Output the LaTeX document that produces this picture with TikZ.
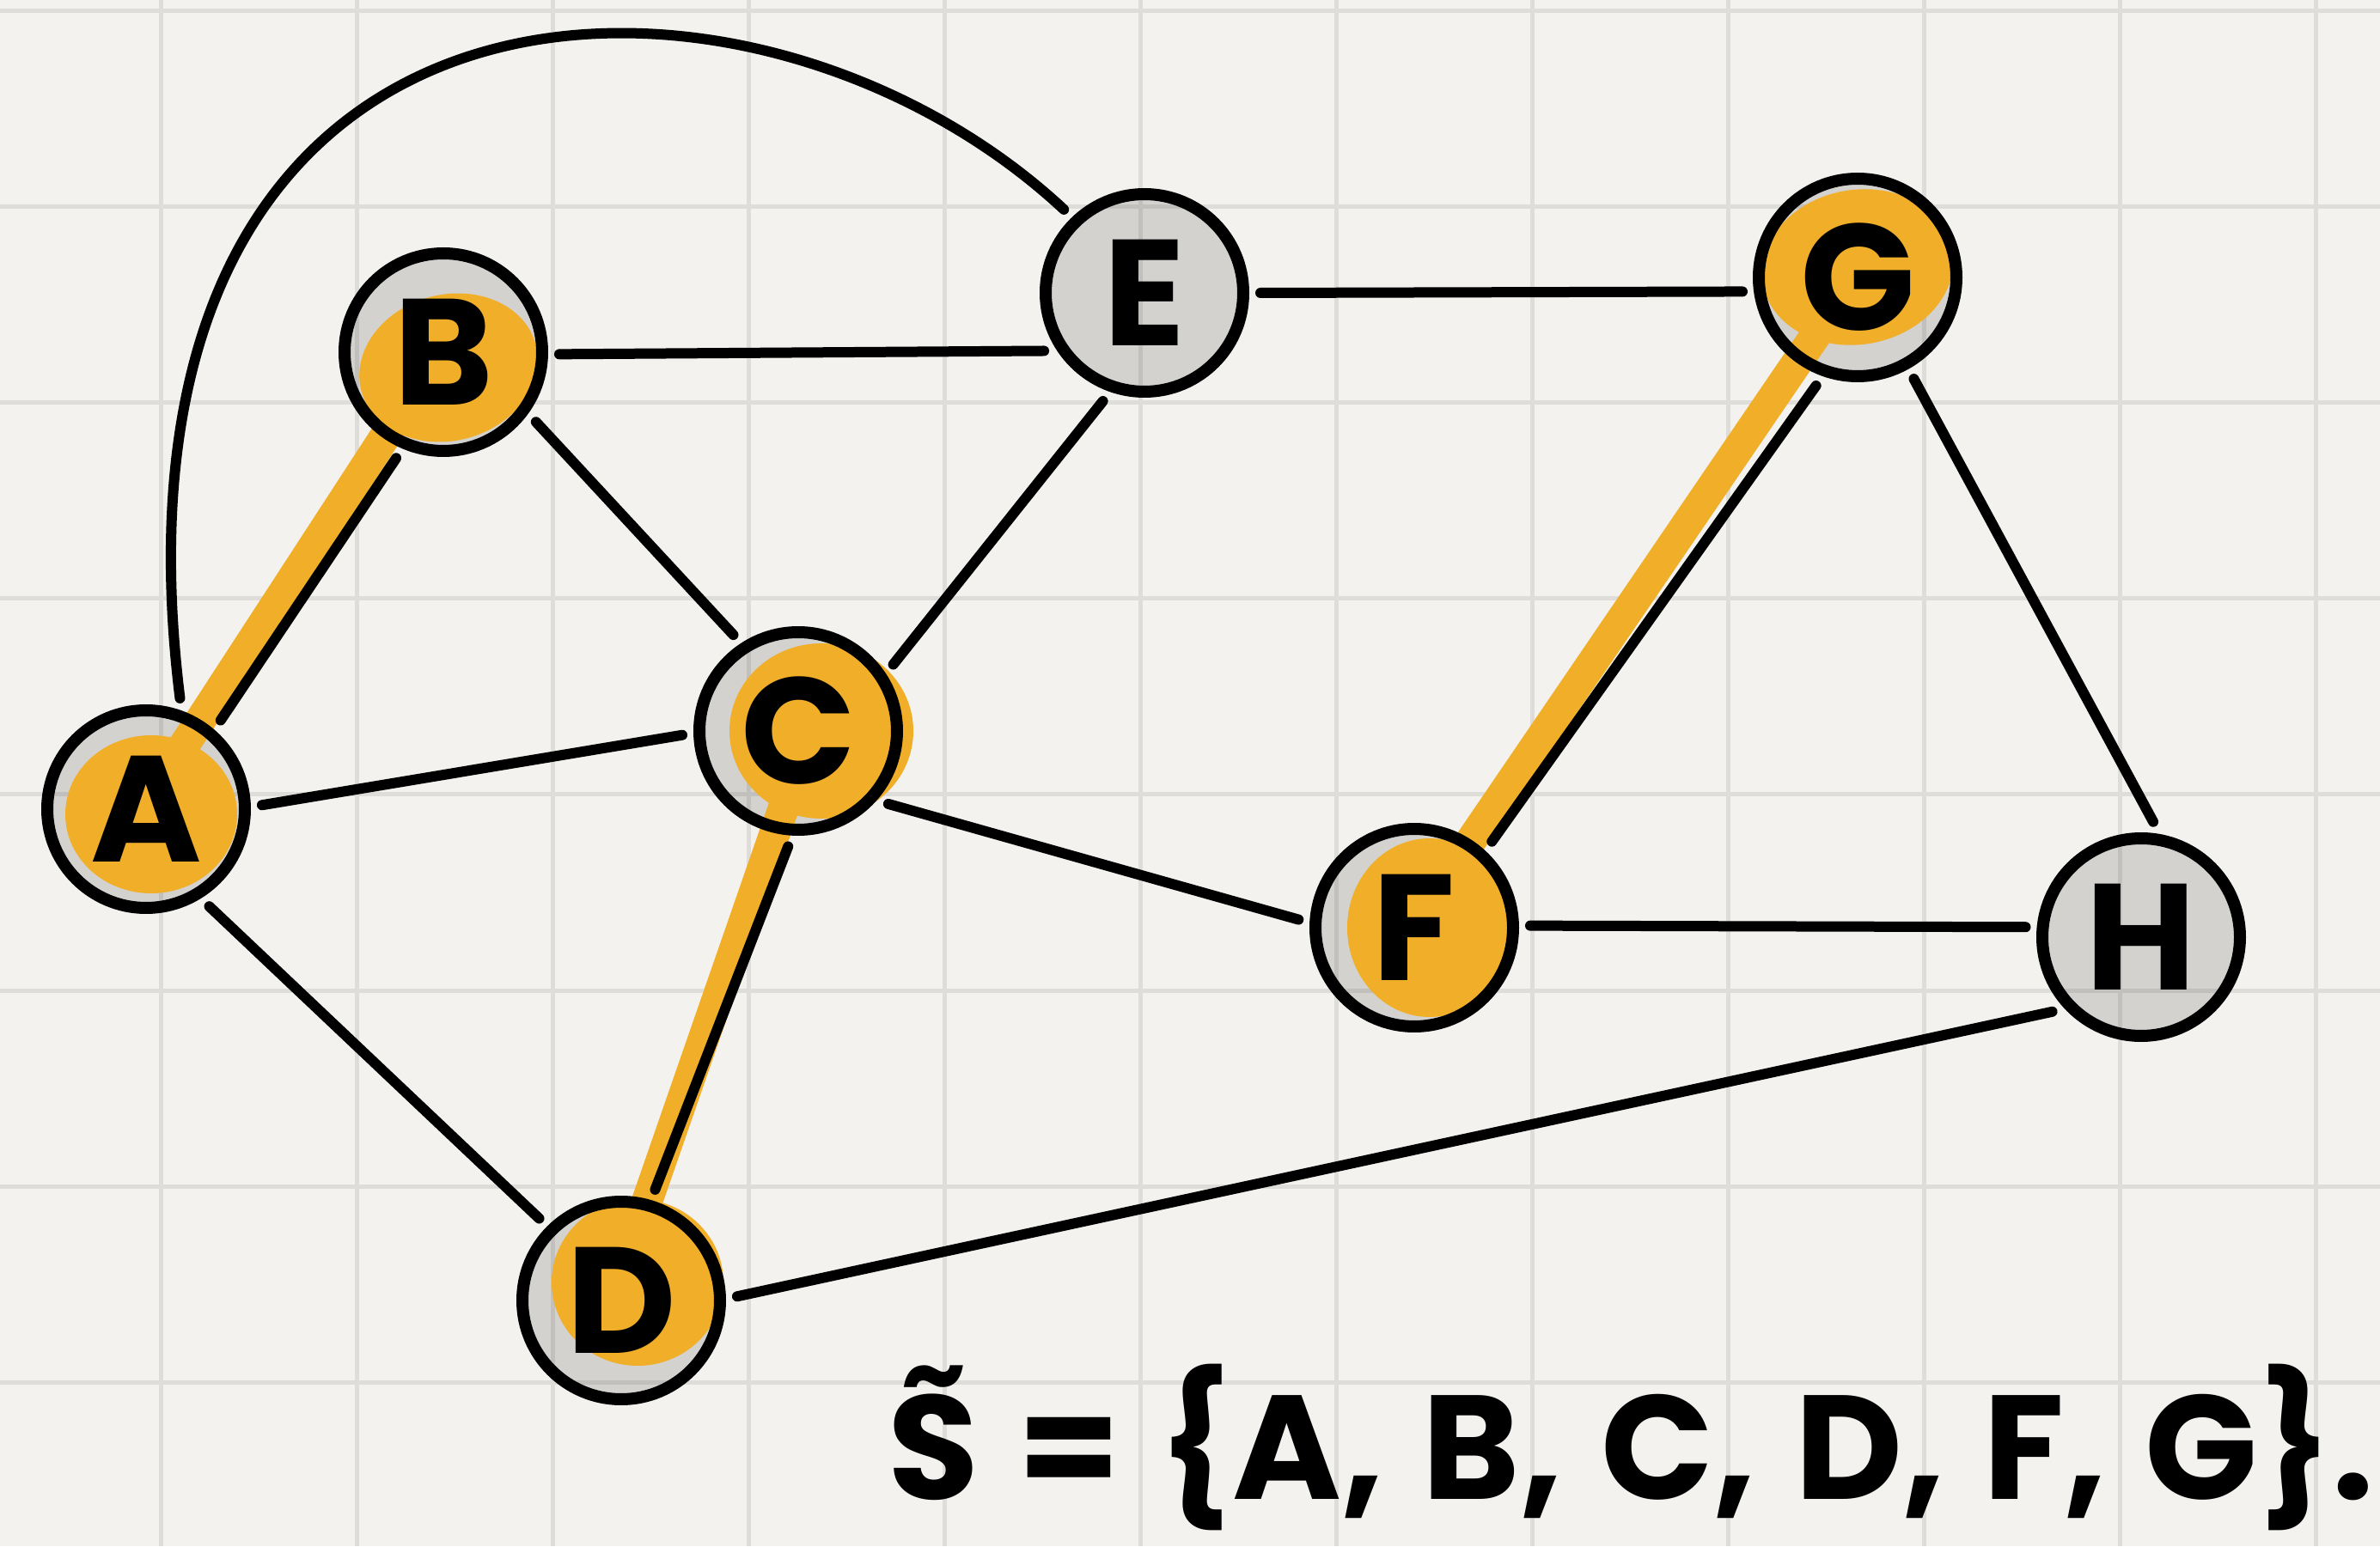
\documentclass[tikz,border=0pt]{standalone}
\usepackage{fontspec}
\setmainfont{Poppins}
\usepackage{tikz}
\usetikzlibrary{calc}
\definecolor{paperBg}{HTML}{F3F2EE}
\definecolor{paperGrid}{HTML}{DEDDDA}
\definecolor{markOrange}{HTML}{F1AE29}
\pgfdeclarelayer{paper}\pgfdeclarelayer{disc}\pgfdeclarelayer{marker}
\pgfsetlayers{paper,disc,marker,main}

\begin{document}
\begin{tikzpicture}[
  vtx/.style={circle, draw=black, line width=0.14cm, minimum size=2.3cm, inner sep=0pt,
    outer sep=0.2cm, font=\fontsize{50}{50}\selectfont\bfseries},
  edge/.style={black, line width=0.12cm, line cap=round},
  hl/.style={markOrange, line width=0.36cm, line cap=round},
  gridline/.style={paperGrid, line width=0.05cm},
]
\useasboundingbox (0,0) rectangle (27.7,18);
\begin{pgfonlayer}{paper}
  \fill[paperBg] (0,0) rectangle (27.7,18);
  \foreach \i in {0,...,11}
    \draw[gridline] ({1.87+2.28*\i},0) -- ({1.87+2.28*\i},18);
  \foreach \j in {0,...,7}
    \draw[gridline] (0,{1.91+2.28*\j}) -- (27.7,{1.91+2.28*\j});
\end{pgfonlayer}

\node[vtx] (A) at (1.70,8.58) {A};
\node[vtx] (B) at (5.16,13.90) {B};
\node[vtx] (C) at (9.29,9.49) {C};
\node[vtx] (D) at (7.23,2.86) {D};
\node[vtx] (E) at (13.32,14.59) {E};
\node[vtx] (F) at (16.46,7.20) {F};
\node[vtx] (G) at (21.62,14.77) {G};
\node[vtx] (H) at (24.92,7.09) {H};

\begin{pgfonlayer}{disc}
  \foreach \n in {A,B,C,D,E,F,G,H}
    \fill[black, opacity=0.13] (\n) circle (1.15cm);
\end{pgfonlayer}

\begin{pgfonlayer}{marker}
  \fill[markOrange] ($(A)+(0.06,-0.06)$) ellipse [x radius=1.0cm, y radius=0.92cm];
  \fill[markOrange] ($(B)+(0.06,-0.18)$) ellipse [x radius=1.05cm, y radius=0.85cm, rotate=15];
  \fill[markOrange] ($(C)+(0.27,0)$) ellipse [x radius=1.07cm, y radius=1.02cm];
  \fill[markOrange] ($(D)+(0.19,0.21)$) ellipse [x radius=1.0cm, y radius=0.97cm];
  \fill[markOrange] ($(F)+(0.18,0)$) ellipse [x radius=0.96cm, y radius=1.04cm];
  \fill[markOrange] ($(G)+(0,0.12)$) ellipse [x radius=1.12cm, y radius=0.9cm, rotate=10];
  \draw[hl] ([xshift=-0.04cm]A.center) -- ([xshift=-0.04cm]B.center);
  \draw[hl] ([xshift=0.14cm]C.center) -- ([xshift=-0.1cm]D.center);
  \draw[hl] ([xshift=-0.03cm]G.center) -- ([xshift=-0.03cm]F.center);
\end{pgfonlayer}

\draw[edge] (A.50) -- (B.246);
\draw[edge] (A.2) -- (C.182);
\draw[edge] (A.303) -- (D.135);
\draw[edge] (A.73) .. controls +(97:9) and +(137:5) .. (E.134);
\draw[edge] (B.359) -- (E.210);
\draw[edge] (B.323) -- (C.124);
\draw[edge] (C.35) -- (E.249);
\draw[edge] (C.321) -- (F.176);
\draw[edge] (C.265) -- (D.73);
\draw[edge] (E.0) -- (G.187);
\draw[edge] (G.249) -- (F.48);
\draw[edge] (G.299) -- (H.84);
\draw[edge] (F.1) -- (H.175);
\draw[edge] (D.2) -- (H.220);

\node[anchor=base west, inner sep=0pt, font=\fontsize{49}{49}\selectfont\bfseries] (set)
  at (10.33,0.55) {\spaceskip=0.26em\accent"02DC S = \{A, B, C, D, F, G\}.};
\end{tikzpicture}
\end{document}
